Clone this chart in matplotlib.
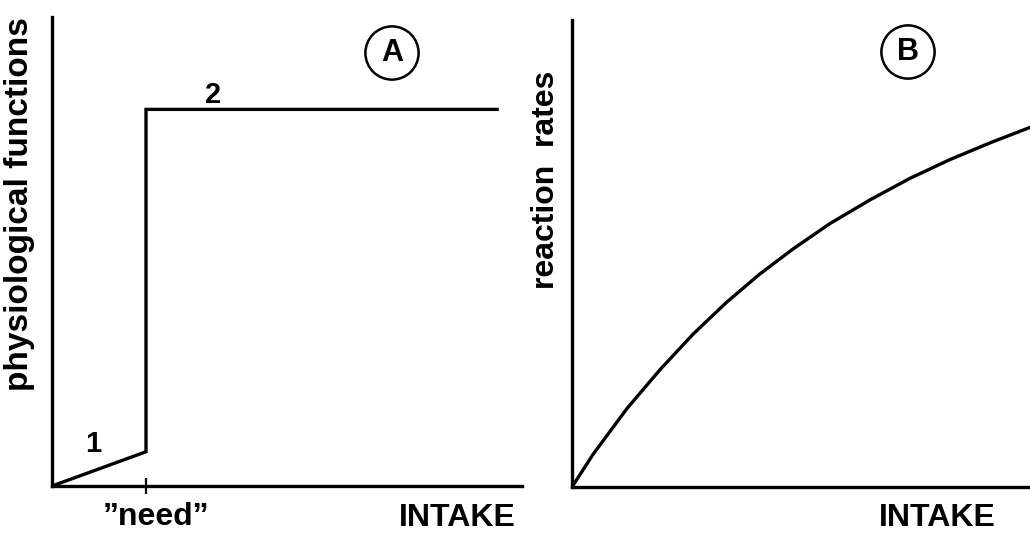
import matplotlib
matplotlib.use('Agg')
import matplotlib.pyplot as plt

plt.rcParams['font.family'] = ['Liberation Sans', 'DejaVu Sans']
plt.rcParams['font.weight'] = 'bold'

# Panel A: step response around the "need" intake level (arbitrary units)
need_x = 2.0
a_x = [0.0, 2.0, 2.0, 9.47]
a_y = [0.0, 0.73, 8.03, 8.03]

# Panel B: saturating reaction rate curve (arbitrary units)
b_x = [0.0, 0.46, 1.20, 1.92, 2.64, 3.38, 4.10, 4.83, 5.63, 6.51, 7.38, 8.25, 9.13, 10.0]
b_y = [0.0, 0.70, 1.68, 2.51, 3.27, 3.96, 4.56, 5.10, 5.64, 6.15, 6.61, 7.01, 7.37, 7.70]

W, H = 1030, 535
fig = plt.figure(figsize=(W / 100, H / 100), dpi=100)


def px_axes(left, top, right, bottom):
    return fig.add_axes([left / W, 1 - bottom / H, (right - left) / W, (bottom - top) / H])


def style(ax):
    for s in ['top', 'right']:
        ax.spines[s].set_visible(False)
    for s in ['left', 'bottom']:
        ax.spines[s].set_linewidth(2.4)
    ax.set_xlim(0, 10)
    ax.set_ylim(0, 10)
    ax.set_yticks([])


def circled(x, y, s):
    # x, y in pixels from top-left
    fig.text(x / W, 1 - y / H, s, fontsize=22, ha='center', va='center',
             bbox=dict(boxstyle='circle,pad=0.38', fc='white', ec='black', lw=1.8))


ax1 = px_axes(52, 17, 522, 486)
style(ax1)
ax1.plot(a_x, a_y, color='black', lw=2.4, solid_joinstyle='miter')
ax1.set_xticks([need_x])
ax1.set_xticklabels([])
ax1.tick_params(axis='x', direction='inout', length=12, width=1.6)

ax2 = px_axes(572, 20, 1030, 487)
style(ax2)
ax2.plot(b_x, b_y, color='black', lw=2.4)
ax2.set_xticks([])

circled(392, 53, 'A')
circled(908, 52, 'B')

fig.text(93 / W, 1 - 444 / H, '1', fontsize=21, ha='center', va='center')
fig.text(213 / W, 1 - 95 / H, '2', fontsize=21, ha='center', va='center')

fig.text(20 / W, 1 - 204 / H, 'physiological functions', rotation=90,
         fontsize=24, ha='center', va='center')
fig.text(546 / W, 1 - 180 / H, 'reaction  rates', rotation=90,
         fontsize=23, ha='center', va='center')
fig.text(156 / W, 1 - 517 / H, '\u201dneed\u201d', fontsize=23, ha='center', va='center')
fig.text(457 / W, 1 - 518 / H, 'INTAKE', fontsize=23, ha='center', va='center')
fig.text(937 / W, 1 - 518 / H, 'INTAKE', fontsize=23, ha='center', va='center')

fig.savefig('out.png', dpi=100)
